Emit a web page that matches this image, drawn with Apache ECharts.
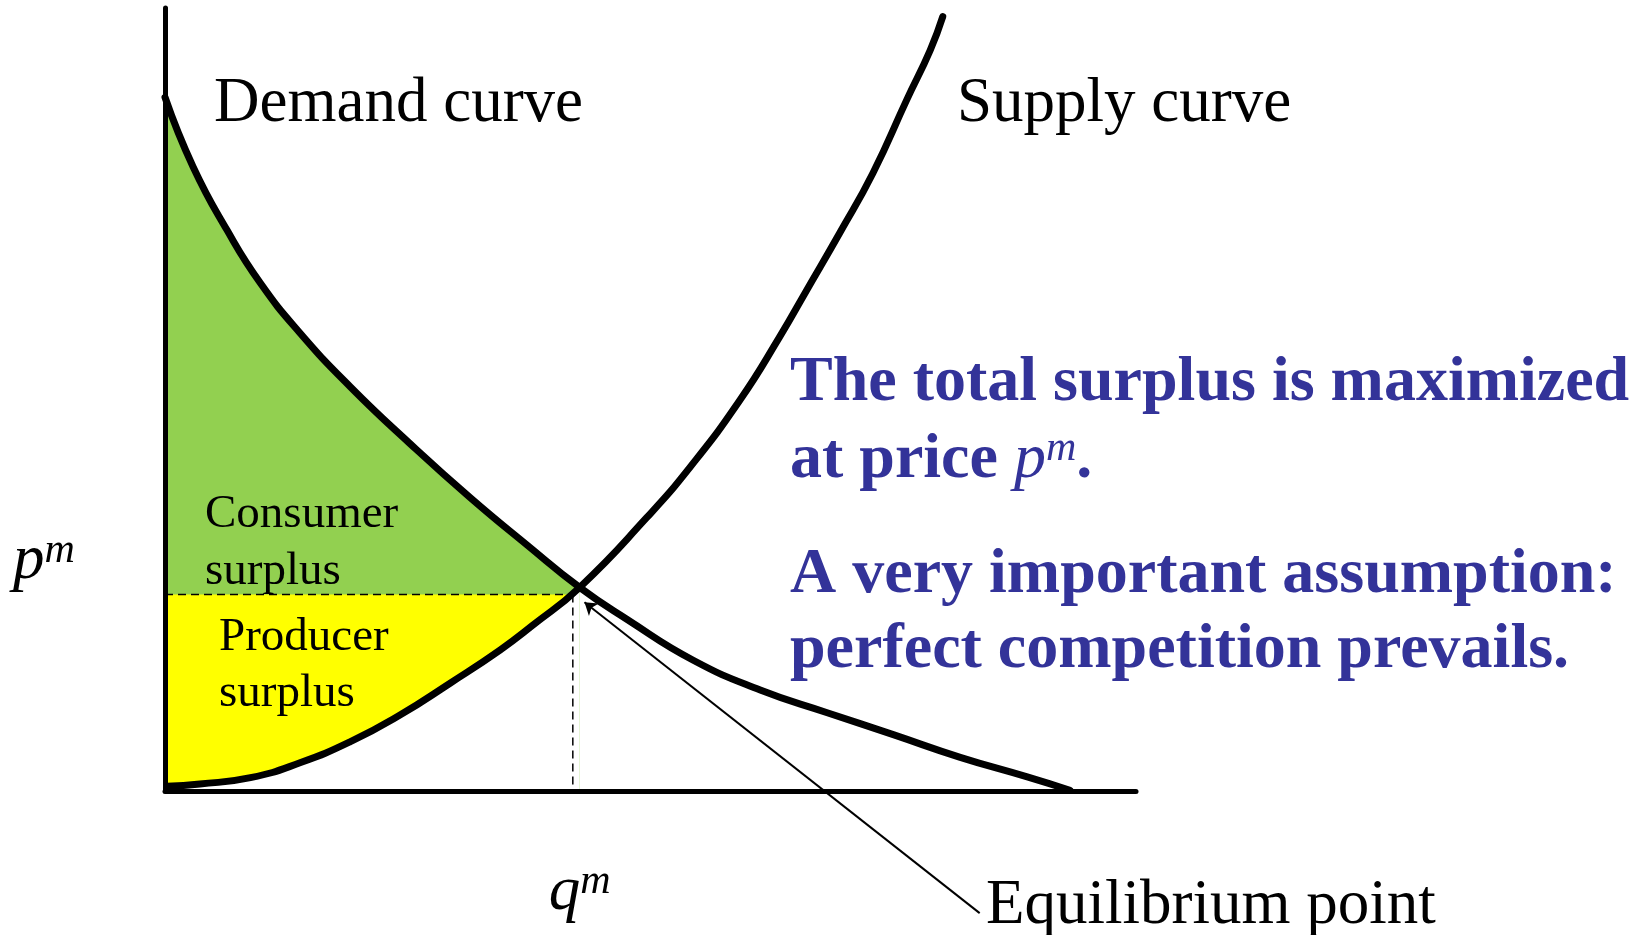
<!DOCTYPE html>
<html>
<head>
<meta charset="utf-8">
<title>Total surplus</title>
<script src="https://cdn.jsdelivr.net/npm/echarts@6/dist/echarts.min.js"></script>
<style>
  html, body { margin: 0; padding: 0; background: #fff; }
  #chart { width: 1645px; height: 935px; }
</style>
</head>
<body>
<div id="chart"></div>
<script>
// quantity (x) and price (y), arbitrary units 0..100
const demandCurve = [
  [0.0, 88.6], [2.9, 79.7], [6.4, 71.6], [9.8, 64.9], [13.9, 58.5], [19.1, 51.6],
  [25.2, 44.4], [31.4, 37.5], [37.3, 31.4], [42.7, 26.0], [47.6, 21.9], [54.4, 16.7],
  [61.3, 12.9], [68.2, 10.0], [75.0, 7.2], [81.9, 4.3], [88.8, 1.8], [93.2, 0.1]
];
const supplyCurve = [
  [0.2, 0.6], [3.6, 0.9], [8.8, 1.7], [13.9, 3.6], [19.1, 6.3], [24.2, 9.7],
  [29.4, 13.8], [34.5, 18.0], [37.9, 21.2], [42.7, 26.0], [49.6, 34.9],
  [54.1, 41.4], [59.2, 49.9], [63.3, 58.0], [66.1, 64.0], [69.5, 71.3], [72.9, 78.9],
  [76.4, 88.3], [78.8, 94.6], [80.1, 98.9]
];
const equilibrium = [42.7, 26.0];
const pm = 25.1;
const qm = 42.0;
// pointer from the "Equilibrium point" label to the crossing
const arrowTail = [83.9, -15.6];
const arrowHead = [43.2, 24.1];

const SERIF = '"Liberation Serif", "Times New Roman", serif';
const BLUE = '#333399';
const SMOOTH = 0.5;

const demandLeft = demandCurve.filter(p => p[0] <= equilibrium[0]);
const supplyLeft = supplyCurve.filter(p => p[0] <= equilibrium[0]);

const chart = echarts.init(document.getElementById('chart'));

const axisCommon = {
  type: 'value',
  min: 0,
  max: 100,
  z: 10,
  axisLine: { show: true, onZero: false, lineStyle: { color: '#000', width: 5 } },
  axisTick: { show: false },
  axisLabel: { show: false },
  splitLine: { show: false }
};

function areaSeries(name, data, color, smooth) {
  return {
    name: name,
    type: 'line',
    data: data,
    smooth: smooth,
    symbol: 'none',
    silent: true,
    z: 1,
    lineStyle: { width: 0, opacity: 0 },
    areaStyle: { color: color, opacity: 1, origin: 'start' }
  };
}

function dashed(data) {
  return {
    type: 'line',
    data: data,
    symbol: 'none',
    silent: true,
    z: 3,
    lineStyle: { color: '#000', width: 1.5, type: [8, 5] }
  };
}

function curve(name, data) {
  return {
    name: name,
    type: 'line',
    data: data,
    smooth: SMOOTH,
    symbol: 'none',
    z: 4,
    lineStyle: { color: '#000', width: 7, cap: 'round', join: 'round' }
  };
}

chart.setOption({
  animation: false,
  backgroundColor: '#fff',
  grid: { left: 165, top: 8, right: 509, bottom: 144 },
  xAxis: axisCommon,
  yAxis: axisCommon,
  series: [
    // consumer surplus: under demand, above pm (the rest is painted over)
    areaSeries('consumer', demandLeft, '#92d050', SMOOTH),
    // producer surplus band up to pm
    areaSeries('producer', [[0, pm], [qm, pm]], '#ffff00', false),
    // white below the supply curve
    areaSeries('below supply', supplyLeft, '#ffffff', SMOOTH),
    dashed([[0, pm], [equilibrium[0], pm]]),
    dashed([[qm, pm], [qm, 0]]),
    curve('Demand', demandCurve),
    curve('Supply', supplyCurve),
    {
      type: 'lines',
      coordinateSystem: 'cartesian2d',
      clip: false,
      silent: true,
      z: 5,
      symbol: ['none', 'arrow'],
      symbolSize: 12,
      lineStyle: { color: '#000', width: 2, opacity: 1, curveness: 0 },
      data: [{ coords: [arrowTail, arrowHead] }]
    }
  ]
});

function label(x, y, text, extra) {
  return {
    type: 'text',
    x: x,
    y: y,
    silent: true,
    z: 20,
    style: Object.assign({
      text: text,
      fill: '#000',
      fontFamily: SERIF,
      fontSize: 63,
      align: 'left',
      verticalAlign: 'middle',
      textAlign: 'left',
      textVerticalAlign: 'middle'
    }, extra || {})
  };
}

const pmPx = chart.convertToPixel({ gridIndex: 0 }, [0, pm]);
const qmPx = chart.convertToPixel({ gridIndex: 0 }, [qm, 0]);

const supRich = function (size, color, weight) {
  return {
    base: { fontFamily: SERIF, fontSize: size, fill: color, fontWeight: weight, lineHeight: size, verticalAlign: 'middle' },
    it: { fontFamily: SERIF, fontSize: size, fill: color, fontStyle: 'italic', lineHeight: size, verticalAlign: 'middle' },
    sup: { fontFamily: SERIF, fontSize: Math.round(size * 0.66), fill: color, fontStyle: 'italic', lineHeight: Math.round(size * 0.8), verticalAlign: 'top' }
  };
};

chart.setOption({
  graphic: [
    label(214, 104, 'Demand curve'),
    label(957, 104, 'Supply curve'),
    label(205, 515, 'Consumer', { fontSize: 47 }),
    label(205, 572, 'surplus', { fontSize: 47 }),
    label(219, 638, 'Producer', { fontSize: 47 }),
    label(219, 694, 'surplus', { fontSize: 47 }),
    label(13, pmPx[1] - 33, '{it|p}{sup|m}', { rich: supRich(63, '#000', 'normal') }),
    label(qmPx[0] - 24, qmPx[1] + 101, '{it|q}{sup|m}', { rich: supRich(63, '#000', 'normal') }),
    label(986, 906, 'Equilibrium point'),
    label(790, 383, 'The total surplus is maximized', { fontSize: 64, fontWeight: 'bold', fill: BLUE }),
    label(790, 460, '{base|at price }{it|p}{sup|m}{base|.}', { rich: supRich(64, BLUE, 'bold') }),
    label(790, 575, 'A very important assumption:', { fontSize: 64, fontWeight: 'bold', fill: BLUE }),
    label(790, 650, 'perfect competition prevails.', { fontSize: 64, fontWeight: 'bold', fill: BLUE })
  ]
});
</script>
</body>
</html>
